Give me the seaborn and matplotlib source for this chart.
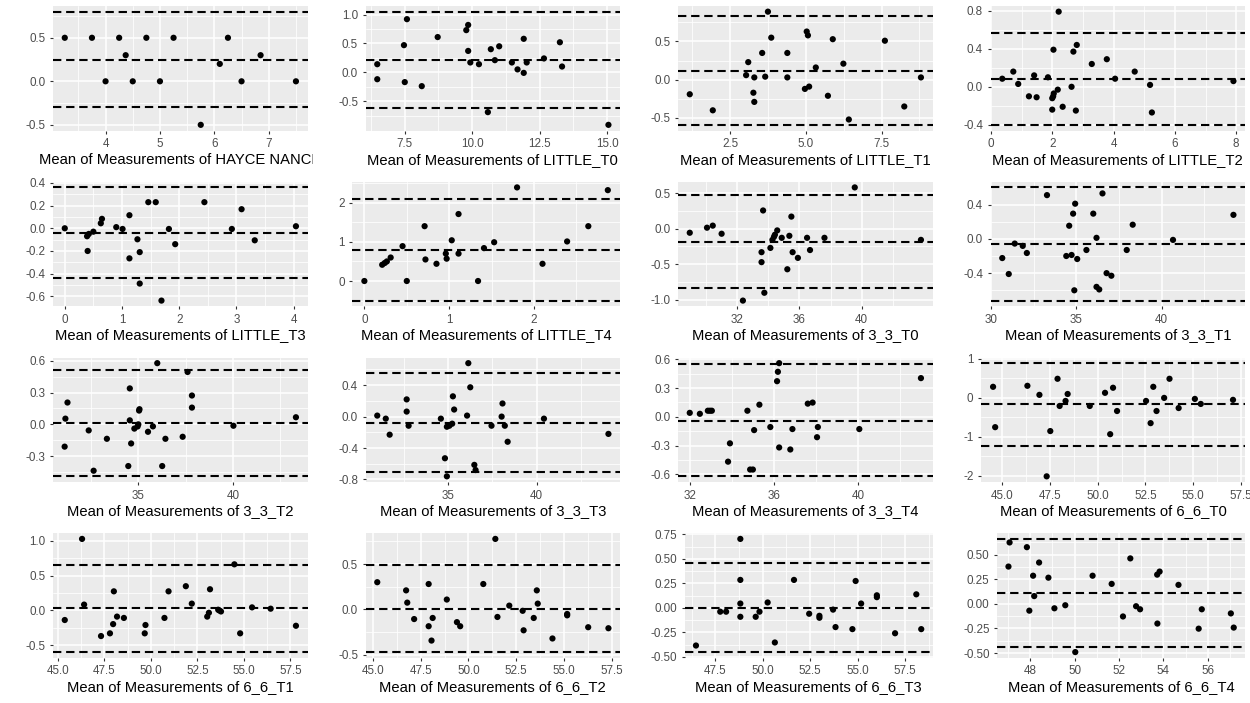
import matplotlib
matplotlib.use("Agg")
import matplotlib.pyplot as plt
import seaborn as sns
import pandas as pd
from matplotlib.transforms import Bbox, TransformedBbox

# ---------------- data ----------------
hayce_mean = [3.25, 3.75, 4.0, 4.25, 4.37, 4.5, 4.75, 5.0, 5.25, 5.75, 6.1, 6.25, 6.5, 6.85, 7.5]
hayce_diff = [0.5, 0.5, 0.0, 0.5, 0.3, 0.0, 0.5, 0.0, 0.5, -0.5, 0.2, 0.5, 0.0, 0.3, 0.0]
hayce_loa = [0.80, 0.25, -0.30]

lt0_mean = [6.48, 6.48, 7.47, 7.58, 7.5, 8.13, 8.72, 9.78, 9.85, 9.85, 9.93, 10.25, 10.58, 10.69, 10.84,
            11.0, 11.47, 11.68, 11.91, 11.91, 12.02, 12.66, 13.25, 13.33, 15.05]
lt0_diff = [0.14, -0.12, 0.47, 0.92, -0.17, -0.24, 0.61, 0.73, 0.82, 0.37, 0.17, 0.14, -0.69, 0.40, 0.21,
            0.45, 0.17, 0.05, -0.01, 0.58, 0.17, 0.24, 0.52, 0.10, -0.91]
lt0_loa = [1.05, 0.21, -0.62]

lt1_mean = [1.17, 1.93, 3.10, 3.03, 3.30, 3.27, 3.30, 3.56, 3.66, 3.75, 3.86, 4.39, 4.39, 4.97, 5.03,
            5.07, 5.11, 5.33, 5.73, 5.89, 6.24, 6.42, 7.61, 8.25, 8.80]
lt1_diff = [-0.19, -0.40, 0.23, 0.06, 0.03, -0.17, -0.29, 0.35, 0.04, 0.89, 0.55, 0.35, 0.03, -0.12, 0.63,
            0.58, -0.09, 0.16, -0.21, 0.53, 0.21, -0.52, 0.51, -0.35, 0.03]
lt1_loa = [0.83, 0.12, -0.59]

lt2_mean = [0.37, 0.73, 0.89, 1.24, 1.41, 1.49, 1.86, 2.0, 2.03, 2.05, 2.04, 2.0, 2.18, 2.21, 2.34,
            2.63, 2.69, 2.80, 2.77, 3.29, 3.78, 4.05, 4.69, 5.19, 5.25, 7.91]
lt2_diff = [0.085, 0.16, 0.03, -0.10, 0.12, -0.11, 0.10, -0.12, -0.10, -0.07, 0.39, -0.24, -0.03, 0.79, -0.21,
            0.0, 0.37, 0.44, -0.25, 0.24, 0.29, 0.085, 0.16, 0.02, -0.27, 0.06]
lt2_loa = [0.57, 0.08, -0.40]

lt3_mean = [0.0, 0.39, 0.40, 0.42, 0.50, 0.63, 0.65, 0.90, 1.01, 1.13, 1.13, 1.27, 1.31, 1.31, 1.46,
            1.59, 1.69, 1.82, 1.93, 2.44, 2.92, 3.09, 3.32, 4.04]
lt3_diff = [0.0, -0.07, -0.20, -0.05, -0.03, 0.044, 0.083, 0.01, -0.006, 0.115, -0.265, -0.097, -0.21, -0.487, 0.23,
            0.23, -0.637, -0.006, -0.14, 0.23, -0.006, 0.168, -0.106, 0.018]
lt3_loa = [0.36, -0.04, -0.44]

lt4_mean = [0.0, 0.21, 0.24, 0.265, 0.31, 0.45, 0.50, 0.71, 0.72, 0.85, 0.96, 0.97, 1.03, 1.11, 1.11,
            1.34, 1.41, 1.53, 1.80, 2.10, 2.39, 2.64, 2.87]
lt4_diff = [0.0, 0.415, 0.46, 0.50, 0.60, 0.89, 0.0, 1.40, 0.55, 0.44, 0.70, 0.57, 1.04, 1.71, 0.70,
            0.0, 0.84, 0.99, 2.39, 0.44, 1.01, 1.40, 2.32]
lt4_loa = [2.09, 0.80, -0.50]

t30_mean = [28.94, 30.05, 30.42, 30.99, 32.36, 33.56, 33.56, 33.66, 33.74, 34.13, 34.26, 34.36, 34.42, 34.57, 34.86,
            35.22, 35.35, 35.48, 35.56, 35.90, 36.49, 36.68, 37.61, 39.56, 43.82]
t30_diff = [-0.057, 0.014, 0.043, -0.071, -1.01, -0.33, -0.47, 0.256, -0.90, -0.27, -0.157, -0.114, -0.085, -0.024, -0.128,
            -0.57, -0.10, 0.17, -0.33, -0.41, -0.128, -0.30, -0.128, 0.58, -0.157]
t30_loa = [0.48, -0.18, -0.83]

t31_mean = [30.66, 31.04, 31.39, 31.86, 32.10, 33.28, 34.58, 34.41, 34.72, 34.81, 34.88, 34.93, 35.05, 35.59, 35.99,
            36.18, 36.18, 36.34, 36.53, 36.77, 37.05, 37.95, 38.30, 40.66, 44.2]
t31_diff = [-0.224, -0.41, -0.055, -0.082, -0.165, 0.51, 0.153, -0.20, -0.188, 0.294, -0.60, 0.41, -0.235, -0.13, 0.294,
            0.012, -0.56, -0.59, 0.53, -0.40, -0.43, -0.13, 0.165, -0.012, 0.28]
t31_loa = [0.60, -0.06, -0.72]

t32_mean = [31.11, 31.15, 31.26, 32.38, 32.64, 33.34, 34.47, 34.55, 34.55, 34.62, 34.79, 34.96, 35.0, 35.04, 35.06,
            35.51, 35.77, 36.0, 36.26, 36.43, 37.34, 37.6, 37.83, 37.83, 40.02, 43.32]
t32_diff = [-0.21, 0.054, 0.206, -0.057, -0.437, -0.136, -0.393, 0.339, 0.038, -0.18, -0.04, -0.02, 0.0, 0.13, 0.143,
            -0.07, -0.019, 0.577, -0.393, -0.136, -0.117, 0.494, 0.272, 0.158, -0.013, 0.067]
t32_loa = [0.51, 0.01, -0.49]

t33_mean = [31.0, 31.48, 31.70, 32.66, 32.66, 32.77, 34.59, 34.82, 34.93, 34.93, 35.07, 35.23, 35.27, 35.34, 36.07,
            36.14, 36.25, 36.48, 36.55, 37.45, 38.02, 38.07, 38.2, 38.36, 40.41, 44.05]
t33_diff = [0.013, -0.026, -0.23, 0.219, 0.064, -0.116, -0.026, -0.53, -0.76, -0.129, -0.116, -0.09, 0.258, 0.09, 0.013,
            0.68, 0.373, -0.614, -0.68, -0.116, 0.0, 0.167, -0.116, -0.32, -0.026, -0.22]
t33_loa = [0.56, -0.08, -0.71]

t34_mean = [32.0, 32.48, 32.86, 32.96, 33.05, 33.82, 33.91, 34.74, 34.87, 35.0, 35.06, 35.31, 35.83, 36.15, 36.19,
            36.25, 36.25, 36.78, 36.88, 37.61, 37.84, 38.05, 38.09, 40.06, 42.99]
t34_diff = [0.042, 0.032, 0.064, 0.064, 0.064, -0.467, -0.276, 0.064, -0.549, -0.549, -0.138, 0.127, -0.106, 0.372, 0.47,
            0.56, -0.319, -0.34, -0.127, 0.138, 0.149, -0.212, -0.106, -0.127, 0.404]
t34_loa = [0.55, -0.04, -0.62]

s60_mean = [44.51, 44.62, 46.31, 46.94, 47.32, 47.51, 47.89, 48.0, 48.31, 48.42, 49.58, 50.38, 50.65, 50.8, 51.01,
            52.53, 52.77, 52.91, 53.08, 53.48, 53.76, 54.24, 55.09, 55.4, 57.09]
s60_diff = [0.284, -0.75, 0.31, 0.078, -2.01, -0.85, 0.49, -0.207, -0.078, 0.10, -0.207, 0.13, -0.93, 0.26, -0.336,
            -0.078, -0.647, 0.284, -0.336, 0.0, 0.49, -0.26, -0.026, -0.155, -0.05]
s60_loa = [0.89, -0.16, -1.22]

s61_mean = [45.37, 46.30, 46.41, 47.32, 47.80, 47.97, 48.01, 48.18, 48.55, 49.67, 49.71, 50.73, 50.95, 51.88, 52.20,
            53.03, 53.12, 53.18, 53.62, 53.68, 53.77, 54.49, 54.8, 55.44, 56.44, 57.8]
s61_diff = [-0.138, 1.03, 0.084, -0.369, -0.33, -0.197, 0.275, -0.089, -0.108, -0.33, -0.21, -0.108, 0.275, 0.349, 0.098,
            -0.089, -0.034, 0.305, 0.01, 0.0, -0.015, 0.664, -0.33, 0.044, 0.025, -0.221]
s61_loa = [0.66, 0.03, -0.60]

s62_mean = [45.23, 46.74, 46.80, 47.16, 47.92, 47.92, 48.07, 48.13, 48.87, 49.40, 49.57, 50.78, 51.41, 51.52, 52.14,
            52.84, 52.89, 53.42, 53.58, 53.63, 54.4, 55.17, 55.17, 56.27, 57.33]
s62_diff = [0.30, 0.21, 0.075, -0.106, 0.28, -0.185, -0.343, -0.094, 0.109, -0.14, -0.185, 0.28, 0.777, -0.083, 0.042,
            -0.015, -0.23, -0.094, 0.21, 0.064, -0.32, -0.05, -0.065, -0.196, -0.207]
s62_loa = [0.49, 0.005, -0.47]

s63_mean = [46.48, 47.76, 48.07, 48.82, 48.82, 48.82, 48.82, 49.63, 49.83, 50.26, 50.64, 51.65, 52.45, 52.99, 52.99,
            53.71, 53.84, 54.73, 54.9, 55.19, 56.02, 56.02, 56.98, 58.1, 58.36]
s63_diff = [-0.383, -0.038, -0.038, 0.704, 0.286, 0.045, -0.09, -0.09, -0.038, 0.056, -0.352, 0.286, -0.059, -0.08, -0.10,
            -0.017, -0.195, -0.216, 0.275, 0.045, 0.129, 0.11, -0.258, 0.139, -0.216]
s63_loa = [0.455, 0.0, -0.45]

s64_mean = [47.07, 47.02, 47.85, 47.96, 48.13, 48.18, 48.40, 48.82, 49.09, 49.58, 50.03, 50.81, 51.67, 52.18, 52.51,
            52.77, 52.95, 53.73, 53.72, 53.83, 54.68, 55.59, 55.73, 57.04, 57.17]
s64_diff = [0.624, 0.379, 0.576, -0.069, 0.286, 0.079, 0.42, 0.266, -0.045, -0.014, -0.49, 0.286, 0.203, -0.128, 0.462,
            -0.024, -0.055, -0.2, 0.297, 0.328, 0.193, -0.252, -0.055, -0.097, -0.241]
s64_loa = [0.66, 0.11, -0.44]

names = ["HAYCE NANCE", "LITTLE_T0", "LITTLE_T1", "LITTLE_T2",
         "LITTLE_T3", "LITTLE_T4", "3_3_T0", "3_3_T1",
         "3_3_T2", "3_3_T3", "3_3_T4", "6_6_T0",
         "6_6_T1", "6_6_T2", "6_6_T3", "6_6_T4"]

x_tick_labels = [
    ["4", "5", "6", "7"], ["7.5", "10.0", "12.5", "15.0"], ["2.5", "5.0", "7.5"], ["0", "2", "4", "6", "8"],
    ["0", "1", "2", "3", "4"], ["0", "1", "2"], ["32", "36", "40"], ["30", "35", "40"],
    ["35", "40"], ["35", "40"], ["32", "36", "40"], ["45.0", "47.5", "50.0", "52.5", "55.0", "57.5"],
    ["45.0", "47.5", "50.0", "52.5", "55.0", "57.5"], ["45.0", "47.5", "50.0", "52.5", "55.0", "57.5"],
    ["47.5", "50.0", "52.5", "55.0", "57.5"], ["48", "50", "52", "54", "56"],
]
y_tick_labels = [
    ["-0.5", "0.0", "0.5"], ["-0.5", "0.0", "0.5", "1.0"], ["-0.5", "0.0", "0.5"], ["-0.4", "0.0", "0.4", "0.8"],
    ["-0.6", "-0.4", "-0.2", "0.0", "0.2", "0.4"], ["0", "1", "2"], ["-1.0", "-0.5", "0.0", "0.5"], ["-0.4", "0.0", "0.4"],
    ["-0.3", "0.0", "0.3", "0.6"], ["-0.8", "-0.4", "0.0", "0.4"], ["-0.6", "-0.3", "0.0", "0.3", "0.6"], ["-2", "-1", "0", "1"],
    ["-0.5", "0.0", "0.5", "1.0"], ["-0.5", "0.0", "0.5"], ["-0.50", "-0.25", "0.00", "0.25", "0.50", "0.75"],
    ["-0.50", "-0.25", "0.00", "0.25", "0.50"],
]

series = [
    (hayce_mean, hayce_diff, hayce_loa), (lt0_mean, lt0_diff, lt0_loa), (lt1_mean, lt1_diff, lt1_loa),
    (lt2_mean, lt2_diff, lt2_loa), (lt3_mean, lt3_diff, lt3_loa), (lt4_mean, lt4_diff, lt4_loa),
    (t30_mean, t30_diff, t30_loa), (t31_mean, t31_diff, t31_loa), (t32_mean, t32_diff, t32_loa),
    (t33_mean, t33_diff, t33_loa), (t34_mean, t34_diff, t34_loa), (s60_mean, s60_diff, s60_loa),
    (s61_mean, s61_diff, s61_loa), (s62_mean, s62_diff, s62_loa), (s63_mean, s63_diff, s63_loa),
    (s64_mean, s64_diff, s64_loa),
]

# ---------------- styling ----------------
sns.set_theme(style="darkgrid")
plt.rcParams['font.family'] = ['Liberation Sans', 'DejaVu Sans']

W, H = 1250, 703
fig = plt.figure(figsize=(W / 100, H / 100), dpi=100)
fig.patch.set_facecolor("white")

TICK_FS = 8.4
TITLE_FS = 10.6


def minor_breaks(major, lo, hi):
    step = major[1] - major[0]
    cand = [major[0] - step / 2] + [(a + b) / 2 for a, b in zip(major[:-1], major[1:])] + [major[-1] + step / 2]
    return [m for m in cand if lo <= m <= hi]


axes = []
for i, name in enumerate(names):
    xs, ys, loa = series[i]
    ax = fig.add_axes([0, 0, 0.1, 0.1])
    df = pd.DataFrame({"mean": xs, "diff": ys})
    sns.scatterplot(data=df, x="mean", y="diff", ax=ax, color="black", s=20,
                    edgecolor="none", linewidth=0, zorder=3)
    for v in loa:
        ax.axhline(v, color="black", lw=1.5, dashes=(4, 2.3), zorder=2)

    xlo, xhi = min(xs), max(xs)
    ylo, yhi = min(ys + loa), max(ys + loa)
    xp, yp = 0.05 * (xhi - xlo), 0.05 * (yhi - ylo)
    xlim = (xlo - xp, xhi + xp)
    ylim = (ylo - yp, yhi + yp)
    ax.set_xlim(*xlim)
    ax.set_ylim(*ylim)

    xt = [float(t) for t in x_tick_labels[i]]
    yt = [float(t) for t in y_tick_labels[i]]
    ax.set_xticks(xt)
    ax.set_xticklabels(x_tick_labels[i])
    ax.set_yticks(yt)
    ax.set_yticklabels(y_tick_labels[i])
    ax.set_xticks(minor_breaks(xt, *xlim), minor=True)
    ax.set_yticks(minor_breaks(yt, *ylim), minor=True)

    ax.set_facecolor("#EBEBEB")
    for sp in ax.spines.values():
        sp.set_visible(False)
    ax.grid(which="major", color="white", lw=1.1)
    ax.grid(which="minor", color="white", lw=0.55)
    ax.set_axisbelow(True)
    ax.tick_params(which="major", bottom=True, left=True, length=2.2, width=0.8,
                   color="#333333", labelcolor="#4D4D4D", labelsize=TICK_FS, pad=3.3)
    ax.tick_params(which="minor", bottom=False, left=False, length=0)
    ax.set_xlabel(f"Mean of Measurements of {name}", fontsize=TITLE_FS, color="black", labelpad=1.8)
    ax.set_ylabel("")
    axes.append(ax)

# ---------------- layout (ggplot-like grid cells) ----------------
fig.canvas.draw()
renderer = fig.canvas.get_renderer()
cell_w, cell_h = W / 4, H / 4
for i, ax in enumerate(axes):
    r, c = divmod(i, 4)
    wmax = max(l.get_window_extent(renderer).width for l in ax.get_yticklabels())
    left = c * cell_w + 25.5 + wmax + 7.7
    right = (c + 1) * cell_w - 5
    top = r * cell_h + 6
    bottom = r * cell_h + 130.5
    ax.set_position([left / W, 1 - bottom / H, (right - left) / W, (bottom - top) / H])
    lab = ax.xaxis.label
    lab.set_clip_box(TransformedBbox(Bbox.from_extents(c / 4, 0, (c + 1) / 4, 1), fig.transFigure))
    lab.set_clip_on(True)

fig.savefig("out.png", dpi=100, facecolor="white")
